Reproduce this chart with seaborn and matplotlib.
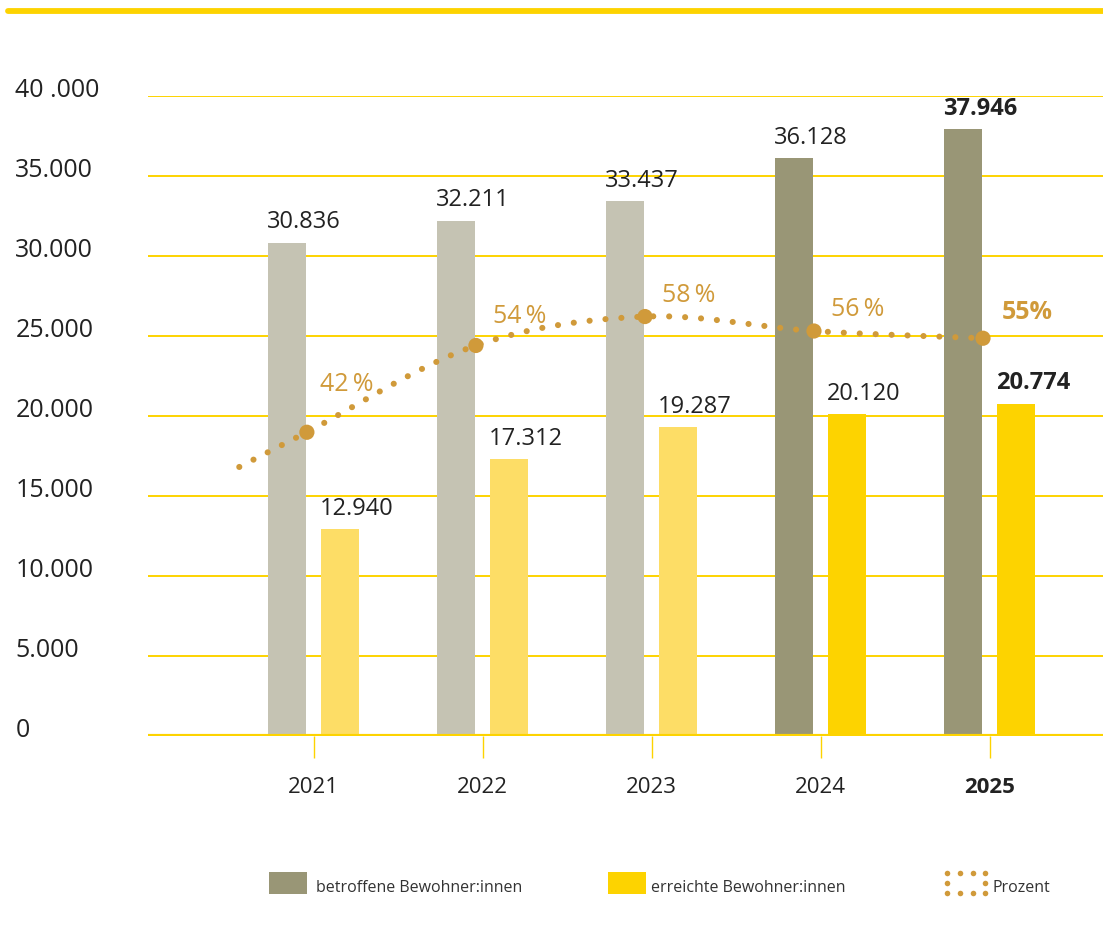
import numpy as np
import pandas as pd
import matplotlib
matplotlib.use("Agg")
import matplotlib.pyplot as plt
from matplotlib.lines import Line2D
from matplotlib.patches import Rectangle
import seaborn as sns

# Daten
years = ["2021", "2022", "2023", "2024", "2025"]
betroffene = [30836, 32211, 33437, 36128, 37946]
erreichte = [12940, 17312, 19287, 20120, 20774]
prozent = [42, 54, 58, 56, 55]
ytick_vals = [0, 5000, 10000, 15000, 20000, 25000, 30000, 35000, 40000]
ytick_labels = ["0", "5.000", "10.000", "15.000", "20.000", "25.000",
                "30.000", "35.000", "40 .000"]

# Farben
GREY_LIGHT = "#C5C3B3"
GREY_DARK = "#999676"
YELLOW_LIGHT = "#FDDD66"
YELLOW = "#FDD300"
GOLD = "#D09A3A"
TEXT = "#222222"

sns.set_theme(style="white")
plt.rcParams["font.family"] = ["Open Sans", "DejaVu Sans"]

W, H = 1103, 929
fig = plt.figure(figsize=(W / 100, H / 100), dpi=100)
ax = fig.add_axes([148 / W, 192 / H, 955 / W, 640 / H])

df = pd.DataFrame({
    "Jahr": years * 2,
    "Wert": betroffene + erreichte,
    "Gruppe": ["betroffene"] * 5 + ["erreichte"] * 5,
})
sns.barplot(data=df, x="Jahr", y="Wert", hue="Gruppe", ax=ax,
            width=0.63, gap=0.286, palette=[GREY_LIGHT, YELLOW_LIGHT],
            legend=False, saturation=1)

# Farben pro Jahr (2024/2025 kräftig)
for i, (pg, py) in enumerate(zip(ax.containers[0], ax.containers[1])):
    pg.set_facecolor(GREY_DARK if i >= 3 else GREY_LIGHT)
    py.set_facecolor(YELLOW if i >= 3 else YELLOW_LIGHT)
    pg.set_edgecolor("none")
    py.set_edgecolor("none")

# Wertebeschriftungen
for cont in ax.containers:
    for i, p in enumerate(cont):
        v = int(round(p.get_height()))
        ax.annotate(f"{v:,}".replace(",", "."), (p.get_x(), p.get_height()),
                    xytext=(-1, 11), textcoords="offset points",
                    ha="left", va="baseline", fontsize=17, color=TEXT,
                    fontweight="bold" if i == 4 else "normal")

ax.set_xlim(-0.98, 4.67)
ax.set_ylim(0, 40000)
for s in ax.spines.values():
    s.set_visible(False)
ax.set_xlabel("")
ax.set_ylabel("")
ax.yaxis.grid(True, color=YELLOW, lw=1.4)
ax.set_axisbelow(True)
ax.axhline(0, color=YELLOW, lw=3, zorder=3)
ax.set_yticks(ytick_vals, ytick_labels, ha="left", va="baseline")
ax.tick_params(axis="y", length=0, pad=95.5, labelsize=18, labelcolor=TEXT)
ax.tick_params(axis="x", length=16, width=1, color=YELLOW, pad=13,
               labelsize=16, labelcolor=TEXT, bottom=True)
ax.get_xticklabels()[-1].set_fontweight("bold")

# Prozentlinie (eigene Achse)
PCT_SCALE = 452
ax2 = ax.twinx()
ax2.set_ylim(0, 40000 / PCT_SCALE)
ax2.axis("off")

px = np.arange(len(prozent)) - 0.04
pp = np.array(prozent, dtype=float)
# Kurve: Catmull-Rom durch die Punkte, links etwas verlängert
ext_x = px[0] - 0.4
ext_p = pp[0] - (pp[1] - pp[0]) * 0.4
cx = np.concatenate([[ext_x], px])
cp = np.concatenate([[ext_p], pp])
P = np.column_stack([cx, cp])
P = np.vstack([2 * P[0] - P[1], P, 2 * P[-1] - P[-2]])
curve = []
for k in range(1, len(P) - 2):
    p0, p1, p2, p3 = P[k - 1], P[k], P[k + 1], P[k + 2]
    t = np.linspace(0, 1, 60)[:, None]
    seg = 0.5 * ((2 * p1) + (-p0 + p2) * t + (2 * p0 - 5 * p1 + 4 * p2 - p3) * t ** 2
                 + (-p0 + 3 * p1 - 3 * p2 + p3) * t ** 3)
    curve.append(seg)
curve = np.vstack(curve)
ax2.plot(curve[:, 0], curve[:, 1], color=GOLD, lw=4.4,
         linestyle=(0, (0.01, 2.6)), dash_capstyle="round")
sns.scatterplot(x=px, y=pp, ax=ax2, s=120, color=GOLD, edgecolor="none", zorder=5)

offsets = [(13, 49), (17, 30), (17, 22), (17, 23), (19, 27)]
for i, (x, p) in enumerate(zip(px, prozent)):
    dx, dy = offsets[i]
    bold = i == 4
    ax2.annotate(f"{p}%" if bold else f"{p}\u2009%", (x, p),
                 xytext=(dx * 0.72, dy * 0.72),
                 textcoords="offset points", ha="left", va="center",
                 fontsize=18, color=GOLD,
                 fontweight="bold" if bold else "normal")

# Linie oben
fig.add_artist(Line2D([8 / W, 1], [1 - 12 / H] * 2, color=YELLOW, lw=4.2))

# Legende
def fx(v):
    return v / W

def fy(v):
    return 1 - v / H

fig.add_artist(Rectangle((fx(269), fy(895)), 38 / W, 22 / H, color=GREY_DARK, lw=0))
fig.text(fx(316), fy(888), "betroffene Bewohner:innen", fontsize=11.5,
         color="#333333", va="center", ha="left")
fig.add_artist(Rectangle((fx(608), fy(895)), 38 / W, 22 / H, color=YELLOW, lw=0))
fig.text(fx(651), fy(888), "erreichte Bewohner:innen", fontsize=11.5,
         color="#333333", va="center", ha="left")
dot_x, dot_y = [], []
for r, yy in enumerate([874, 884, 894]):
    for c, xx in enumerate([947, 960, 973, 985]):
        if r == 1 and c in (1, 2):
            continue
        dot_x.append(fx(xx))
        dot_y.append(fy(yy))
fig.add_artist(Line2D(dot_x, dot_y, linestyle="none", marker="o", markersize=4,
                      color=GOLD, markeredgewidth=0))
fig.text(fx(993), fy(888), "Prozent", fontsize=11.5, color="#333333",
         va="center", ha="left")

fig.savefig("out.png", dpi=100)
